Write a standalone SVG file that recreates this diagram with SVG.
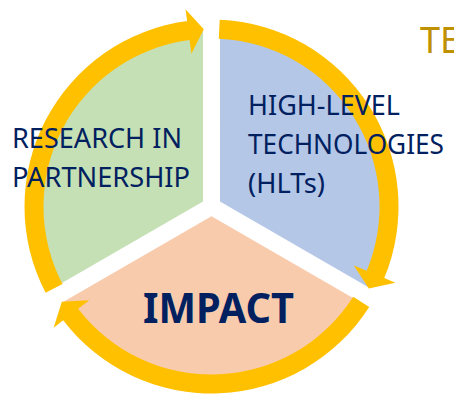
<svg xmlns="http://www.w3.org/2000/svg" xmlns:xlink="http://www.w3.org/1999/xlink" width="454" height="395" viewBox="0 0 454 395">
  <style>
    .lbl { font-family: "Noto Sans", "Open Sans", "Liberation Sans", sans-serif; fill: #002060; }
    .small { font-size: 28px; }
    .big { font-size: 42px; font-weight: bold; }
    .title { font-family: "Noto Sans", "Open Sans", "Liberation Sans", sans-serif; font-size: 36px; fill: #BF9000; }
    .arrow { fill: #FFC000; }
  </style>
  <defs>
    <!-- one pie slice (120 degrees minus gap), centred on the origin -->
    <path id="slice" d="M -8.5 -4.9 L -156.5 80.6 A 176 176 0 0 1 -8.5 -175.8 Z"/>
    <!-- curved block arrow running clockwise along the rim -->
    <path id="rimArrow" d="M -165.9 86.3 A 187 187 0 0 1 -24.4 -185.4 L -26.0 -197.3 L -7.7 -177.3 L -20.1 -152.7 L -21.9 -166.6 A 168 168 0 0 0 -149.0 77.6 Z"/>
  </defs>

  <rect width="454" height="395" fill="#FFFFFF"/>

  <g transform="translate(211.5 206.5)">
    <g id="research">
      <use xlink:href="#slice" fill="#C5E0B4"/>
    </g>
    <g id="hlt">
      <use xlink:href="#slice" fill="#B4C7E7" transform="rotate(120)"/>
    </g>
    <g id="impact">
      <use xlink:href="#slice" fill="#F8CBAD" transform="rotate(240)"/>
    </g>
    <g id="connectors">
      <use xlink:href="#rimArrow" class="arrow"/>
      <use xlink:href="#rimArrow" class="arrow" transform="rotate(120)"/>
      <use xlink:href="#rimArrow" class="arrow" transform="rotate(240)"/>
    </g>
  </g>

  <g id="research-label">
    <text class="lbl small" x="12" y="148" textLength="170" lengthAdjust="spacingAndGlyphs">RESEARCH IN</text>
    <text class="lbl small" x="12" y="187" textLength="178" lengthAdjust="spacingAndGlyphs">PARTNERSHIP</text>
  </g>
  <g id="hlt-label">
    <text class="lbl small" x="248" y="115" textLength="152" lengthAdjust="spacingAndGlyphs">HIGH-LEVEL</text>
    <text class="lbl small" x="248" y="154" textLength="196" lengthAdjust="spacingAndGlyphs">TECHNOLOGIES</text>
    <text class="lbl small" x="248" y="193" textLength="77" lengthAdjust="spacingAndGlyphs">(HLTs)</text>
  </g>
  <g id="impact-label">
    <text class="lbl big" x="143" y="323" textLength="151" lengthAdjust="spacingAndGlyphs">IMPACT</text>
  </g>
  <text class="title" x="420" y="53">TE</text>
</svg>
